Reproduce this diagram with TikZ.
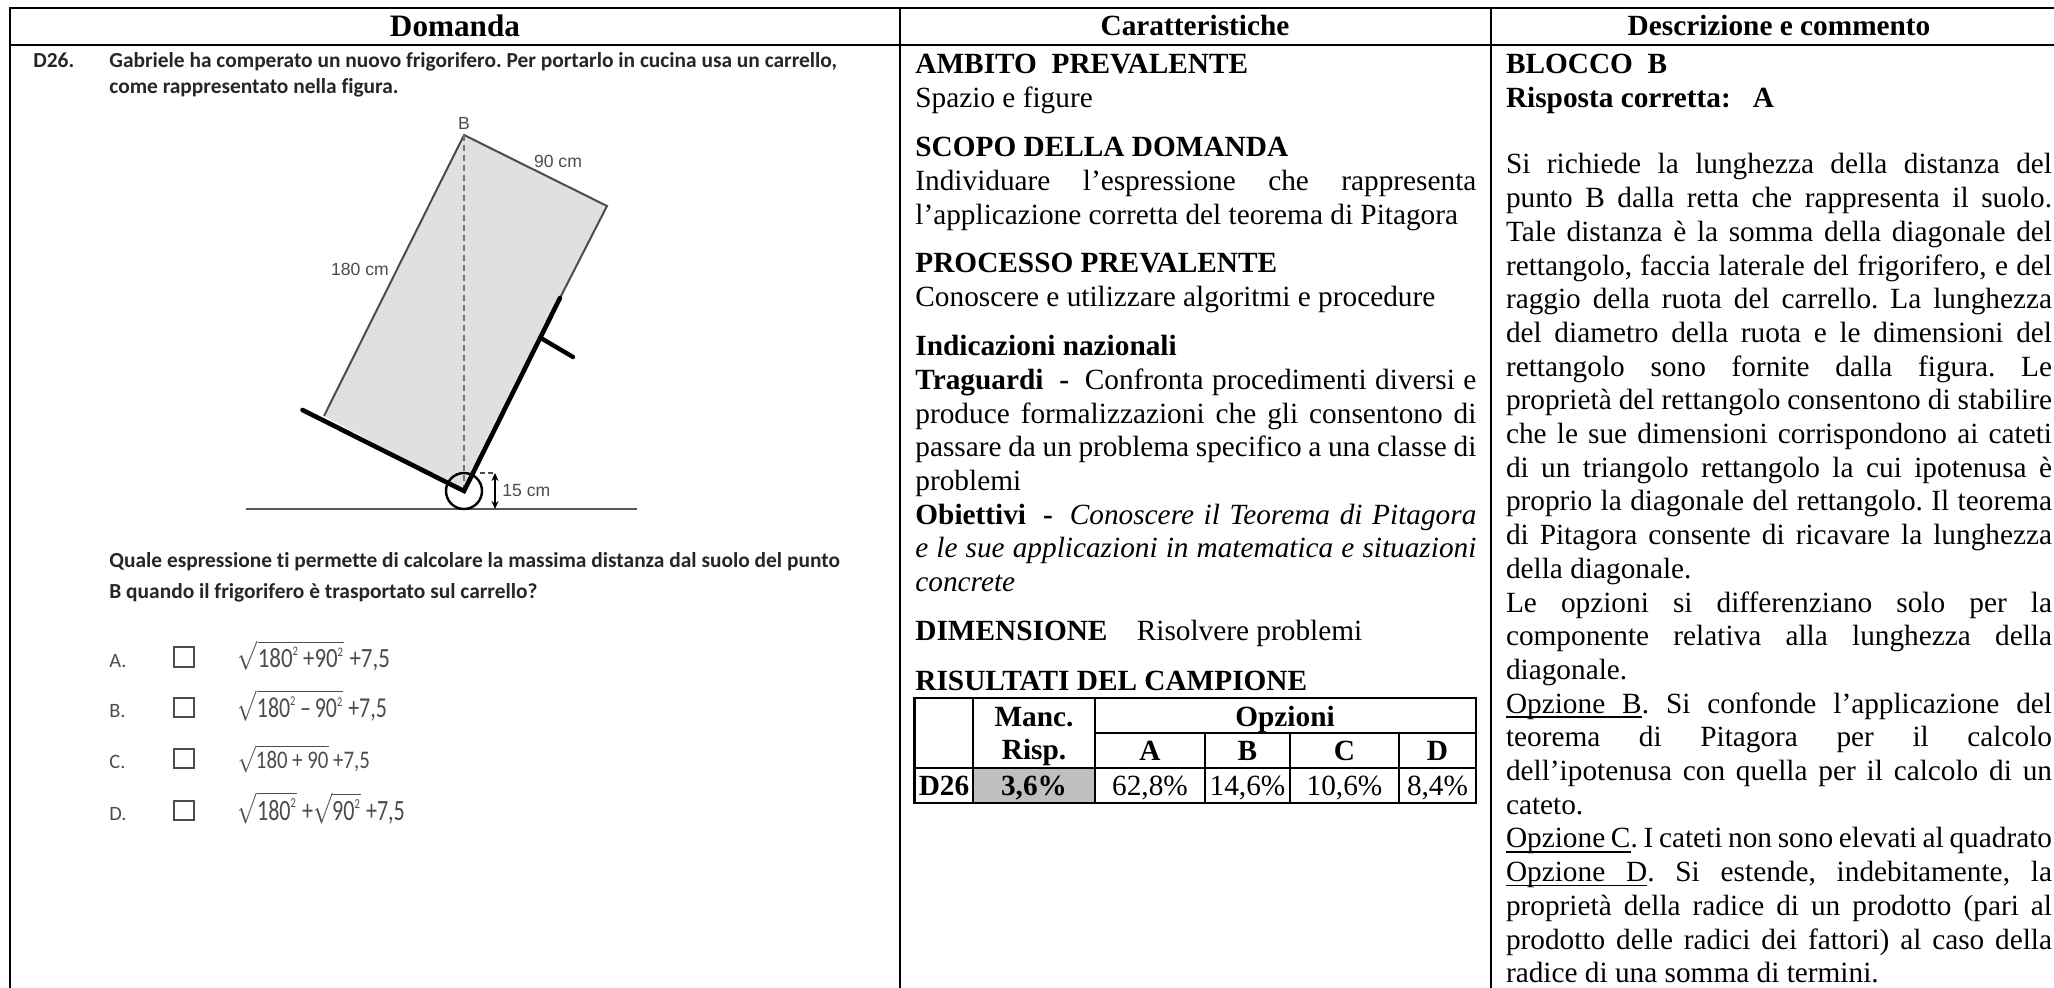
\documentclass[tikz,border=0pt]{standalone}
\usepackage{fontspec}
\usepackage{graphicx}
\usetikzlibrary{arrows.meta}
\setmainfont{Liberation Serif}
\newfontfamily\calfont[Ligatures=NoCommon]{Carlito}
\newfontfamily\arfont{Liberation Sans}
\frenchspacing
\newlength{\lw}
\newcommand{\jl}[1]{\hbox to \lw{#1}}
\newcommand{\pl}[1]{\hbox to \lw{#1\hfil}}
\newcommand{\blk}[2]{\vtop{\setlength{\lw}{#1}\baselineskip=16.85pt\lineskip=0pt\lineskiplimit=-5pt\fontsize{14.65}{16.85}\selectfont #2}}
\newsavebox{\ulb}
\newcommand{\ulw}[1]{\sbox{\ulb}{#1}\rlap{\vrule height -1.6pt depth 2.4pt width \wd\ulb}\usebox{\ulb}}
\newcommand{\ulsp}{\leaders\hrule height -1.6pt depth 2.4pt\hskip \fontdimen2\font plus \fontdimen3\font minus \fontdimen4\font}
\newcommand{\fd}[1]{\hbox{\calfont\fontsize{9.6}{11}\selectfont #1}}
\newcommand{\fs}[1]{\hbox{\calfont\fontsize{4.5}{5}\selectfont #1}}
\definecolor{figgray}{gray}{0.88}
\definecolor{figline}{gray}{0.3}
\definecolor{cellgray}{gray}{0.75}
\tikzset{
  x=0.5pt,y=-0.5pt,
  rule/.style={line width=1.25pt,black},
  thinrule/.style={line width=1.1pt,black},
  head/.style={inner sep=0pt,anchor=base,font=\fontsize{14.65}{16}\selectfont\bfseries},
  txt/.style={inner sep=0pt,anchor=base west},
  cell/.style={inner sep=0pt,anchor=base,font=\fontsize{14.65}{16}\selectfont},
  cellb/.style={cell,font=\fontsize{14.65}{16}\selectfont\bfseries},
  qtxt/.style={inner sep=0pt,anchor=base west,font=\fontsize{10.7}{12}\selectfont\calfont\bfseries,text=black!85},
  optl/.style={inner sep=0pt,anchor=base west,font=\fontsize{10.2}{12}\selectfont\calfont,text=figline},
  fml/.style={inner sep=0pt,anchor=west,text=figline},
  figlab/.style={inner sep=0pt,font=\fontsize{8.8}{10}\selectfont\arfont,text=figline},
  cart/.style={line width=2.3pt,black,line cap=round},
}
\begin{document}
\begin{tikzpicture}
\useasboundingbox (0,0) rectangle (2054,988);
\fill[white] (0,0) rectangle (2054,988);
% outer grid
\draw[rule] (10,8) -- (2054,8);
\draw[rule] (10,45) -- (2054,45);
\draw[rule] (10,7.4) -- (10,988);
\draw[rule] (900,7.4) -- (900,988);
\draw[rule] (1491,7.4) -- (1491,988);
% headers
\node[head,font=\fontsize{15.6}{18}\selectfont\bfseries] (h1) at (455,37) {Domanda};
\node[head] (h2) at (1195,36) {Caratteristiche};
\node[head] (h3) at (1779,36) {Descrizione e commento};
% question
\node[qtxt] (dnum) at (33,68) {D26.};
\node[qtxt] (q1) at (109,68) {Gabriele ha comperato un nuovo frigorifero. Per portarlo in cucina usa un carrello,};
\node[qtxt] (q2) at (109,93.6) {come rappresentato nella figura.};
\node[qtxt] (q3) at (109,567) {Quale espressione ti permette di calcolare la massima distanza dal suolo del punto};
\node[qtxt] (q4) at (109,598) {B quando il frigorifero è trasportato sul carrello?};
% figure
\coordinate (B) at (464,135);
\coordinate (R) at (607,206);
\coordinate (V) at (464,491);
\coordinate (L) at (324,416);
\coordinate (Ltip) at (302.5,410);
\coordinate (Rtip) at (560,298);
\coordinate (Ha) at (542.5,339);
\coordinate (Hb) at (573,357);
\coordinate (G1) at (246,509);
\coordinate (G2) at (637,509);
\coordinate (Da) at (495,473);
\coordinate (Db) at (495,509);
\coordinate (Dc) at (480,473);
\fill[figgray] (B) -- (R) -- (V) -- (L) -- cycle;
\draw[figline,line width=1pt] (L) -- (B) -- (R) -- (Rtip);
\draw[black!55,line width=0.8pt,dash pattern=on 3pt off 2pt] (B) -- (V);
\draw[black!65,line width=1.3pt] (G1) -- (G2);
\draw[black,line width=1.2pt] (464,491) circle (18);
\draw[cart] (Ltip) -- (V) -- (Rtip);
\draw[cart,line width=2.2pt] (Ha) -- (Hb);
\draw[black,line width=0.7pt,{Stealth[length=4pt,width=3.5pt]}-{Stealth[length=4pt,width=3.5pt]}] (Da) -- (Db);
\draw[figline,line width=0.6pt,dash pattern=on 2.5pt off 1.5pt] (Dc) -- (Da);
\node[figlab] (lb) at (464,123) {B};
\node[figlab] (l90) at (558,161) {90 cm};
\node[figlab] (l180) at (360,269) {180 cm};
\node[figlab,anchor=west] (l15) at (502,491) {15 cm};
% options
\foreach \nm/\lab/\ya/\yb in {oa/A./647/667,ob/B./698/717,oc/C./749/768,od/D./801/820}{
  \draw[figline,line width=0.8pt] (174,\ya) rectangle (194,\yb);
  \node[optl] (\nm) at (109,\yb) {\lab};
}
\node[fml] (fa) at (237.5,655.7) {\resizebox{76pt}{13.5pt}{$\sqrt{\fd{180}^{\fs{2}}\fd{\,+90}^{\fs{2}}}\fd{\ +7,5}$}};
\node[fml] (fb) at (237.5,705.7) {\resizebox{74.5pt}{14pt}{$\sqrt{\fd{180}^{\fs{2}}\fd{\,–\,90}^{\fs{2}}}\fd{\ +7,5}$}};
\node[fml] (fc) at (237.5,758.7) {\resizebox{66pt}{12pt}{$\sqrt{\fd{180 + 90}}\fd{\ +7,5}$}};
\node[fml] (fd) at (237.5,808) {\resizebox{83.5pt}{14.3pt}{$\sqrt{\fd{180}^{\fs{2}}}\fd{\ +}\sqrt{\fd{90}^{\fs{2}}}\fd{\ +7,5}$}};
% column 2
\node[txt] (c1) at (915,73.5) {\blk{280.5pt}{\pl{\textbf{AMBITO\hspace{0.5em}PREVALENTE}}\pl{Spazio e figure}}};
\node[txt] (c2) at (915,156.7) {\blk{280.5pt}{\pl{\textbf{SCOPO DELLA DOMANDA}}\jl{Individuare l’espressione che rappresenta}\pl{l’applicazione corretta del teorema di Pitagora}}};
\node[txt] (c3) at (915,272.7) {\blk{280.5pt}{\pl{\textbf{PROCESSO PREVALENTE}}\pl{Conoscere e utilizzare algoritmi e procedure}}};
\node[txt] (c4) at (915,355.7) {\blk{280.5pt}{\pl{\textbf{Indicazioni nazionali}}
\jl{\textbf{Traguardi\hspace{0.25em} -}\hspace{0.25em} Confronta procedimenti diversi e}
\jl{produce formalizzazioni che gli consentono di}
\jl{passare da un problema specifico a una classe di}
\pl{problemi}
\jl{\textbf{Obiettivi\hspace{0.25em} -}\hspace{0.25em} \textit{Conoscere il Teorema di Pitagora}}
\jl{\textit{e le sue applicazioni in matematica e situazioni}}
\pl{\textit{concrete}}}};
\node[txt] (c5) at (915,640) {\blk{280.5pt}{\pl{\textbf{DIMENSIONE}\hspace{1em}Risolvere problemi}}};
\node[txt] (c6) at (915,690) {\blk{280.5pt}{\pl{\textbf{RISULTATI DEL CAMPIONE}}}};
% table
\fill[cellgray] (973,768) rectangle (1095,803);
\draw[thinrule] (914.5,698) rectangle (1476,803);
\draw[thinrule] (1095,733) -- (1476,733);
\draw[thinrule] (914.5,768) -- (1476,768);
\draw[thinrule] (973,698) -- (973,803);
\draw[thinrule] (1095,698) -- (1095,803);
\draw[thinrule] (1205,733) -- (1205,803);
\draw[thinrule] (1290,733) -- (1290,803);
\draw[thinrule] (1399,733) -- (1399,803);
\node[cellb] (t1) at (1034,726) {Manc.};
\node[cellb] (t2) at (1034,759) {Risp.};
\node[cellb] (t3) at (1285,726) {Opzioni};
\node[cellb] (ta) at (1150,760) {A};
\node[cellb] (tb) at (1247.5,760) {B};
\node[cellb] (tc) at (1344.5,760) {C};
\node[cellb] (td) at (1437.5,760) {D};
\node[cellb] (r0) at (944,795) {D26};
\node[cellb] (r1) at (1034,795) {3,6\%};
\node[cell] (r2) at (1150,795) {62,8\%};
\node[cell] (r3) at (1247.5,795) {14,6\%};
\node[cell] (r4) at (1344.5,795) {10,6\%};
\node[cell] (r5) at (1437.5,795) {8,4\%};
% column 3
\node[txt] (d1) at (1505.6,74) {\blk{273pt}{\pl{\textbf{BLOCCO\hspace{0.5em}B}}\pl{\textbf{Risposta corretta:\hspace{0.75em}A}}}};
\node[txt] (d2) at (1505.6,174) {\blk{273pt}{
\jl{Si richiede la lunghezza della distanza del}
\jl{punto B dalla retta che rappresenta il suolo.}
\jl{Tale distanza è la somma della diagonale del}
\jl{rettangolo, faccia laterale del frigorifero, e del}
\jl{raggio della ruota del carrello. La lunghezza}
\jl{del diametro della ruota e le dimensioni del}
\jl{rettangolo sono fornite dalla figura. Le}
\jl{proprietà del rettangolo consentono di stabilire}
\jl{che le sue dimensioni corrispondono ai cateti}
\jl{di un triangolo rettangolo la cui ipotenusa è}
\jl{proprio la diagonale del rettangolo. Il teorema}
\jl{di Pitagora consente di ricavare la lunghezza}
\pl{della diagonale.}
\jl{Le opzioni si differenziano solo per la}
\jl{componente relativa alla lunghezza della}
\pl{diagonale.}
\jl{\ulw{Opzione}\ulsp\ulw{B}. Si confonde l’applicazione del}
\jl{teorema di Pitagora per il calcolo}
\jl{dell’ipotenusa con quella per il calcolo di un}
\pl{cateto.}
\jl{\ulw{Opzione}\ulsp\ulw{C}. I cateti non sono elevati al quadrato}
\jl{\ulw{Opzione}\ulsp\ulw{D}. Si estende, indebitamente, la}
\jl{proprietà della radice di un prodotto (pari al}
\jl{prodotto delle radici dei fattori) al caso della}
\pl{radice di una somma di termini.}}};
\end{tikzpicture}
\end{document}
